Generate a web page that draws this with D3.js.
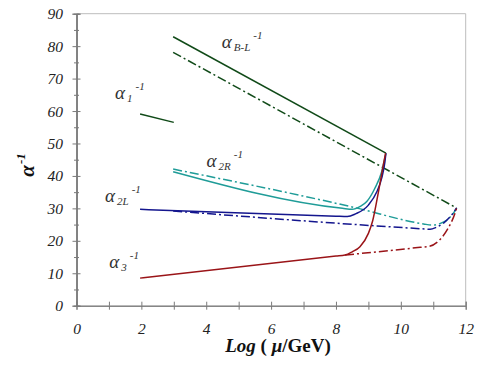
<!DOCTYPE html>
<html>
<head>
<meta charset="utf-8">
<script src="https://cdn.jsdelivr.net/npm/d3@7"></script>
<style>
  body { margin: 0; background: #fff; }
  svg text { font-family: "Liberation Serif", "DejaVu Serif", serif; }
</style>
</head>
<body>
<svg id="chart" width="479" height="372"></svg>
<script>
// tick values
var xTicks = [0, 2, 4, 6, 8, 10, 12];
var xMinor = [1, 3, 5, 7, 9, 11];
var yTicks = [0, 10, 20, 30, 40, 50, 60, 70, 80, 90];
var yMinor = [5, 15, 25, 35, 45, 55, 65, 75, 85];

// curves, [log(mu/GeV), alpha^-1]
var bl_solid = [[2.98, 82.9], [9.54, 47.0]];
var bl_dash = [[2.98, 78.1], [11.72, 30.1]];
var a1_solid = [[1.96, 59.1], [3.0, 56.5]];
var a2r_solid = [[2.98, 41.3], [8.2, 30.0], [8.5, 29.7], [8.75, 30.6], [8.95, 32.1],
                 [9.2, 36.2], [9.41, 41.3], [9.54, 47.0]];
var a2r_dash = [[2.98, 42.1], [8.6, 30.2], [10.7, 25.2], [10.95, 24.85], [11.2, 25.3],
                [11.42, 26.4], [11.62, 28.5], [11.72, 30.1]];
var a2l_solid = [[1.96, 29.7], [8.0, 27.6], [8.35, 27.5], [8.6, 28.3], [9.0, 31.0],
                 [9.26, 35.1], [9.41, 39.3], [9.51, 44.4], [9.54, 47.0]];
var a2l_dash = [[2.98, 29.2], [10.65, 23.7], [10.9, 23.55], [11.1, 24.2], [11.31, 25.4],
                [11.57, 28.0], [11.72, 30.1]];
var a3_solid = [[1.96, 8.5], [8.0, 15.3], [8.28, 15.6], [8.5, 16.6], [8.74, 18.2],
                [9.0, 22.3], [9.13, 26.1], [9.31, 35.1], [9.46, 43.4], [9.53, 47.0]];
var a3_dash = [[8.28, 15.6], [10.6, 18.0], [10.88, 18.3], [11.2, 20.3], [11.46, 23.9],
               [11.67, 28.5], [11.72, 30.1]];

// curve labels: anchor in data units, subscript, superscript
var labels = [
    {x: 4.48, y: 79.4, sub: "B-L", sup: "-1"},
    {x: 1.19, y: 63.7, sub: "1", sup: "-1"},
    {x: 4.01, y: 42.9, sub: "2R", sup: "-1"},
    {x: 0.88, y: 32.0, sub: "2L", sup: "-1"},
    {x: 1.01, y: 11.6, sub: "3", sup: "-1"}
];

var colors = {
    green: "#104a18",
    teal: "#1f9c98",
    navy: "#14168e",
    red: "#9a1418"
};

var serif = "'Liberation Serif', 'DejaVu Serif', serif";

var svg = d3.select("#chart");
var x = d3.scaleLinear().domain([0, 12]).range([76.5, 465.7]);
var y = d3.scaleLinear().domain([0, 90]).range([305.7, 13.7]);

// frame, top and right
svg.append("path")
    .attr("d", "M" + x(0) + "," + y(90) + "H" + x(12) + "V" + y(0))
    .attr("fill", "none")
    .attr("stroke", "#bdbdbd")
    .attr("stroke-width", 1);

function styleAxis(g){
    g.attr("font-family", null);
    g.selectAll("path, line").attr("stroke", "#7a7a7a");
    g.selectAll("text")
        .style("font-family", serif)
        .style("font-style", "italic")
        .style("font-size", "15.5px")
        .attr("fill", "#222");
}

// x axis: ticks crossing the line
svg.append("g")
    .attr("transform", "translate(0," + y(0) + ")")
    .call(d3.axisBottom(x).tickValues(xTicks.concat(xMinor)).tickSize(4).tickPadding(13)
          .tickFormat(d => xTicks.indexOf(d) >= 0 ? d : ""))
    .call(styleAxis);
svg.append("g")
    .attr("transform", "translate(0," + y(0) + ")")
    .call(d3.axisTop(x).tickValues(xTicks.concat(xMinor)).tickSize(4).tickFormat(""))
    .call(styleAxis);

// y axis
svg.append("g")
    .attr("transform", "translate(" + x(0) + ",0)")
    .call(d3.axisLeft(y).tickValues(yTicks).tickSize(4).tickPadding(9.5))
    .call(styleAxis);
svg.append("g")
    .attr("transform", "translate(" + x(0) + ",0)")
    .call(d3.axisRight(y).tickValues(yTicks).tickSize(4).tickFormat(""))
    .call(styleAxis);
svg.append("g")
    .attr("transform", "translate(" + x(0) + ",0)")
    .call(d3.axisLeft(y).tickValues(yMinor).tickSize(2.5).tickFormat(""))
    .call(styleAxis);
svg.append("g")
    .attr("transform", "translate(" + x(0) + ",0)")
    .call(d3.axisRight(y).tickValues(yMinor).tickSize(2.5).tickFormat(""))
    .call(styleAxis);

var line = d3.line()
    .x(d => x(d[0]))
    .y(d => y(d[1]))
    .curve(d3.curveMonotoneX);

var dashDot = "9,3,2,3";
var curves = [
    {pts: bl_dash, color: colors.green, dash: dashDot},
    {pts: a2r_dash, color: colors.teal, dash: dashDot},
    {pts: a2l_dash, color: colors.navy, dash: dashDot},
    {pts: a3_dash, color: colors.red, dash: dashDot},
    {pts: bl_solid, color: colors.green, dash: null},
    {pts: a1_solid, color: colors.green, dash: null},
    {pts: a2r_solid, color: colors.teal, dash: null},
    {pts: a2l_solid, color: colors.navy, dash: null},
    {pts: a3_solid, color: colors.red, dash: null}
];

svg.selectAll("path.curve")
    .data(curves)
    .enter()
    .append("path")
        .classed("curve", true)
        .attr("d", d => line(d.pts))
        .attr("fill", "none")
        .attr("stroke", d => d.color)
        .attr("stroke-width", 1.5)
        .attr("stroke-dasharray", d => d.dash);

// curve labels
var lab = svg.selectAll("text.lab")
    .data(labels)
    .enter()
    .append("text")
        .classed("lab", true)
        .attr("x", d => x(d.x))
        .attr("y", d => y(d.y))
        .attr("fill", "#333")
        .style("font-style", "italic");
lab.append("tspan").style("font-size", "19px").text("α");
lab.append("tspan").style("font-size", "11px").attr("dx", 2).attr("dy", 3).text(d => d.sub);
lab.append("tspan").style("font-size", "11px").attr("dx", 3).attr("dy", -12).text(d => d.sup);

// axis titles
var xt = svg.append("text")
    .attr("x", 278)
    .attr("y", 352)
    .attr("text-anchor", "middle")
    .style("font-size", "19px")
    .style("font-weight", "bold")
    .attr("fill", "#111");
xt.append("tspan").style("font-style", "italic").text("Log");
xt.append("tspan").text(" ( ");
xt.append("tspan").style("font-style", "italic").text("μ");
xt.append("tspan").text("/GeV)");

var yt = svg.append("text")
    .attr("transform", "translate(34,165) rotate(-90)")
    .attr("text-anchor", "middle")
    .style("font-weight", "bold")
    .style("font-style", "italic")
    .attr("fill", "#111");
yt.append("tspan").style("font-size", "21px").text("α");
yt.append("tspan").style("font-size", "13px").attr("dx", 1).attr("dy", -9).text("-1");
</script>
</body>
</html>
